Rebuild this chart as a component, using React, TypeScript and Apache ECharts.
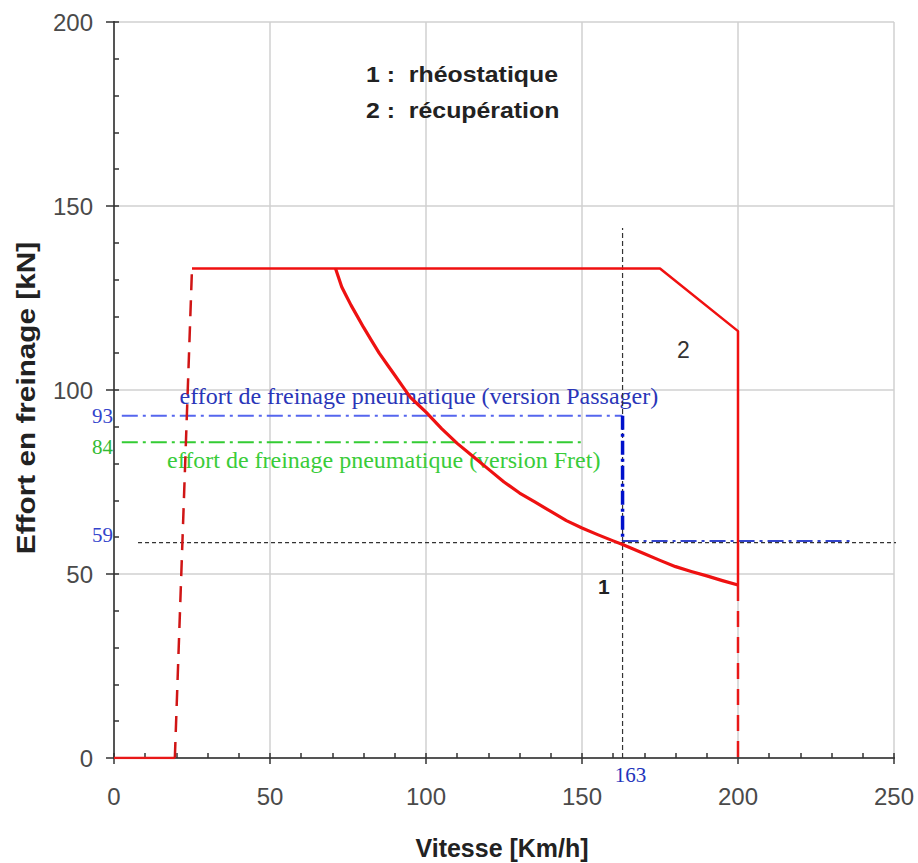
import React, { useEffect, useRef } from "react";
import * as echarts from "echarts";

// ---- data ----
const xRange = [0, 250];
const yRange = [0, 200];
const baseSolid = [[0, 0], [19.5, 0]];
const rampDashed = [[19.5, 0], [25, 133]];
const envelopeRecup = [[25, 133], [175, 133], [200, 116], [200, 47]];
const tailDashed = [[200, 47], [200, 0]];
const rheoX = [71, 72, 73, 74.5, 76, 78, 80, 82.5, 85, 87.5, 90, 92.5, 95, 97.5, 100, 105, 110, 115, 120, 125, 130, 135, 140, 145, 150, 155, 160, 163, 170, 175, 180, 185, 190, 195, 200];
const rheoY = [133, 130.5, 128, 125.5, 123, 120, 117, 113.5, 110, 107, 104, 101, 98, 96, 94, 89.5, 85.5, 82, 78.5, 75, 72, 69.5, 67, 64.5, 62.5, 60.7, 59, 58, 55.5, 53.7, 52, 50.7, 49.5, 48.2, 47];
const passengerLine = [[2.5, 93], [163, 93]];
const passengerDrop = [[163, 93], [163, 59]];
const passengerLow = [[163, 59], [236, 59]];
const fretLine = [[2.5, 85.8], [150, 85.8]];
const refH = [[7.7, 58.5], [258, 58.5]];
const refV = [[163, 0], [163, 144]];

export default function App() {
  const ref = useRef<HTMLDivElement>(null);
  useEffect(() => {
    const chart = echarts.init(ref.current!, null, { renderer: "svg" });
    const tickFont = { fontFamily: "Liberation Sans", fontSize: 24, color: "#4a4a4a" };
    const line = (data: number[][], color: string, width: number, type: any, z = 2, clip = true) => ({
      type: "line",
      data,
      showSymbol: false,
      symbol: "none",
      clip,
      z,
      lineStyle: { color, width, type, join: "round" },
      silent: true,
    });
    const rheo = rheoX.map((x, i) => [x, rheoY[i]]);
    chart.setOption({
      animation: false,
      grid: { left: 114, right: 24, top: 22, bottom: 105 },
      xAxis: [
        {
          type: "value", min: xRange[0], max: xRange[1], interval: 50, position: "bottom",
          axisLine: { lineStyle: { color: "#444", width: 2 } },
          axisTick: { show: true, inside: true, length: 5, lineStyle: { color: "#333", width: 1.5 } },
          minorTick: { show: true, splitNumber: 5, length: 5, lineStyle: { color: "#333", width: 1.5 } },
          axisLabel: { ...tickFont, margin: 26 },
          splitLine: { show: true, lineStyle: { color: "#d0d0d0", width: 1.5 } },
        },
        {
          type: "value", min: xRange[0], max: xRange[1], interval: 50, position: "bottom",
          axisLine: { show: false },
          axisTick: { show: true, inside: false, length: 6, lineStyle: { color: "#333", width: 1.5 } },
          axisLabel: { show: false }, splitLine: { show: false },
        },
        {
          type: "value", min: xRange[0], max: xRange[1], position: "top",
          axisLine: { lineStyle: { color: "#555", width: 2 } },
          axisTick: { show: false }, axisLabel: { show: false }, splitLine: { show: false },
        },
      ],
      yAxis: [
        {
          type: "value", min: yRange[0], max: yRange[1], interval: 50, position: "left",
          axisLine: { show: true, lineStyle: { color: "#444", width: 2 } },
          axisTick: { show: true, inside: true, length: 5, lineStyle: { color: "#333", width: 1.5 } },
          minorTick: { show: true, splitNumber: 5, length: 5, lineStyle: { color: "#333", width: 1.5 } },
          axisLabel: { ...tickFont, margin: 21 },
          splitLine: { show: true, lineStyle: { color: "#d0d0d0", width: 1.5 } },
        },
        {
          type: "value", min: yRange[0], max: yRange[1], interval: 50, position: "left",
          axisLine: { show: false },
          axisTick: { show: true, inside: false, length: 8, lineStyle: { color: "#333", width: 1.5 } },
          axisLabel: { show: false }, splitLine: { show: false },
        },
        {
          type: "value", min: yRange[0], max: yRange[1], position: "right",
          axisLine: { show: true, lineStyle: { color: "#555", width: 2 } },
          axisTick: { show: false }, axisLabel: { show: false }, splitLine: { show: false },
        },
      ],
      series: [
        line(refH, "#333", 1.2, [4, 3], 1, false),
        line(refV, "#333", 1.2, [5, 3], 1),
        line(passengerLine, "#5566ee", 2, [16, 5, 3, 5], 2),
        line(passengerLow, "#3344cc", 2, [16, 5, 3, 5], 2),
        line(passengerDrop, "#0011cc", 3.5, [14, 4, 3, 4], 2),
        line(fretLine, "#33cc33", 2, [16, 5, 3, 5], 2),
        line(baseSolid, "#e81818", 2.5, "solid", 3),
        line(rampDashed, "#d01515", 2.5, [16, 10], 3),
        line(envelopeRecup, "#f01010", 2.5, "solid", 3),
        line(tailDashed, "#e81818", 2.5, [16, 10], 3),
        line(rheo, "#ee1111", 3.2, "solid", 4),
      ],
    });
    const p = (x: number, y: number) => chart.convertToPixel({ gridIndex: 0 }, [x, y]) as number[];
    const serif = "Liberation Serif";
    const sans = "Liberation Sans";
    const txt = (pt: number[], text: string, fill: string, size: number, family: string, weight = "normal", align = "left", extra: any = {}) => ({
      type: "text",
      x: pt[0], y: pt[1],
      ...extra,
      style: { text, fill, fontSize: size, fontFamily: family, fontWeight: weight, align, verticalAlign: "middle" },
      silent: true,
    });
    const p93 = p(0, 93), p84 = p(0, 84.5), p59 = p(0, 60.5);
    const p163 = p(163, 0);
    chart.setOption({
      graphic: [
        txt([366, 75], "1 :  rhéostatique", "#222", 22, sans, "bold", "left", { scaleX: 1.13 }),
        txt([366, 111], "2 :  récupération", "#222", 22, sans, "bold", "left", { scaleX: 1.13 }),
        txt([502, 848], "Vitesse [Km/h]", "#222", 24, sans, "bold", "center", { scaleX: 1.04, scaleY: 1.1 }),
        txt([26, 398], "Effort en freinage [kN]", "#222", 25, sans, "bold", "center", { rotation: Math.PI / 2, scaleX: 1.19, scaleY: 1.0 }),
        txt([p(21, 98.5)[0], p(0, 98.5)[1]], "effort de freinage pneumatique (version Passager)", "#2a36b8", 24, serif),
        txt([p(17, 81)[0], p(0, 81)[1]], "effort de freinage pneumatique (version Fret)", "#39cc39", 24, serif),
        txt([p93[0] - 1, p93[1]], "93", "#3344cc", 21, serif, "normal", "right"),
        txt([p84[0] - 1, p84[1]], "84", "#33bb33", 21, serif, "normal", "right"),
        txt([p59[0] - 1, p59[1]], "59", "#3344cc", 21, serif, "normal", "right"),
        txt([p163[0] + 8, p163[1] + 17], "163", "#2233bb", 21, serif, "normal", "center"),
        txt(p(157, 46.5), "1", "#222", 21, sans, "bold", "center"),
        txt(p(182.5, 111), "2", "#333", 23, sans, "normal", "center"),
      ],
    });
    return () => chart.dispose();
  }, []);
  return <div ref={ref} style={{ position: "absolute", left: 0, top: 0, width: 918, height: 863 }} />;
}
